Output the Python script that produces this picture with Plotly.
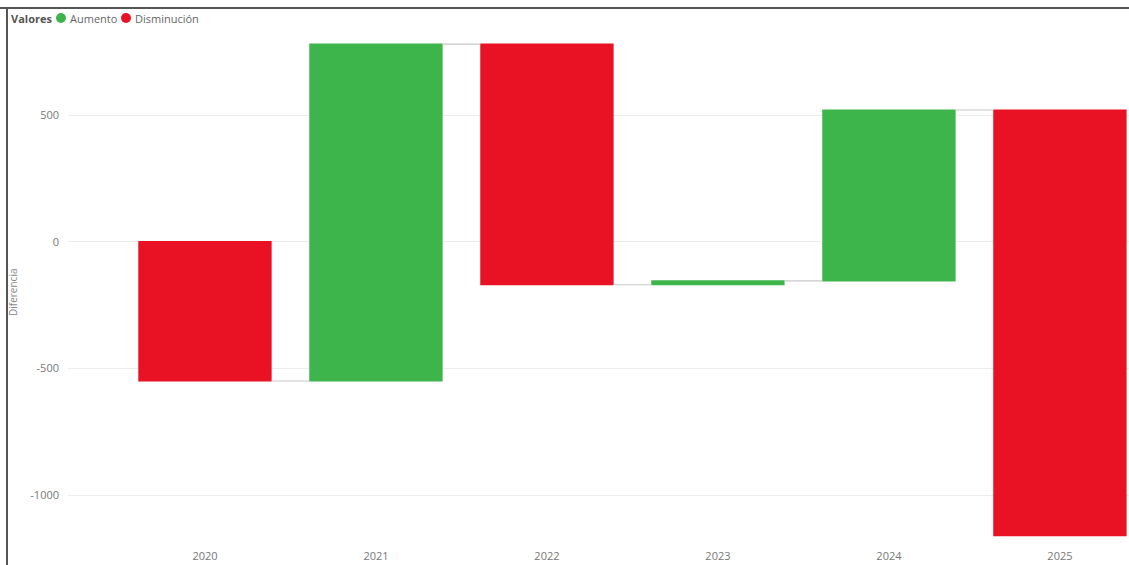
import plotly.graph_objects as go

years = ["2020", "2021", "2022", "2023", "2024", "2025"]
changes = [-550, 1330, -950, 15, 675, -1680]
y_ticks = [-1000, -500, 0, 500]
y_tick_labels = ["-1000", "-500", "0", "500"]
legend_title = "Valores"
legend_names = ["Aumento", "Disminución"]

GREEN = "#3DB54A"
RED = "#E81224"

W, H = 1129, 565
ML, MR, MT, MB = 68, 0, 30, 17
PW = W - ML - MR
PH = H - MT - MB

# pixel scale: 0 at y=241.7, 0.2533 px per unit
Y_TOP = (241.7 - MT) / 0.2533
Y_BOT = -((H - MB) - 241.7) / 0.2533


def px_x(px):
    return (px - ML) / PW


def px_y(py):
    return (H - MB - py) / PH


fig = go.Figure()
fig.add_trace(go.Waterfall(
    x=years,
    y=changes,
    measure=["relative"] * len(changes),
    increasing=dict(marker=dict(color=GREEN)),
    decreasing=dict(marker=dict(color=RED)),
    connector=dict(line=dict(color="#c8c8c8", width=1.2), mode="between"),
    showlegend=False,
    hoverinfo="x+y",
))

font_family = "Segoe UI, Open Sans, Noto Sans, sans-serif"

fig.update_layout(
    width=W, height=H,
    margin=dict(l=ML, r=MR, t=MT, b=MB),
    paper_bgcolor="white",
    plot_bgcolor="white",
    waterfallgap=0.22,
    showlegend=False,
    font=dict(family=font_family, color="#777777", size=11),
    xaxis=dict(
        type="category",
        range=[-0.801, 5.404],
        showgrid=False, showline=False, zeroline=False,
        ticks="",
        tickfont=dict(size=11, color="#777777"),
    ),
    yaxis=dict(
        range=[Y_BOT, Y_TOP],
        tickvals=y_ticks,
        ticktext=y_tick_labels,
        showgrid=True, gridcolor="#ececec", gridwidth=1,
        zeroline=False, showline=False,
        ticks="",
        ticklabelstandoff=8,
        tickfont=dict(size=11, color="#777777"),
    ),
)

# y-axis title
fig.add_annotation(
    text="Diferencia", xref="paper", yref="paper",
    x=px_x(13), y=px_y(293), textangle=-90,
    showarrow=False, xanchor="center", yanchor="middle",
    font=dict(size=10, color="#8a8a8a", family=font_family),
)

# custom legend
fig.add_annotation(
    text="<b>" + legend_title + "</b>", xref="paper", yref="paper",
    x=px_x(9), y=px_y(18), showarrow=False, xanchor="left", yanchor="middle",
    font=dict(size=11, color="#555555", family=font_family),
)
legend_items = [(legend_names[0], GREEN, 61, 68), (legend_names[1], RED, 126, 133)]
for name, col, cx, tx in legend_items:
    fig.add_shape(
        type="circle", xref="paper", yref="paper",
        x0=px_x(cx - 5), x1=px_x(cx + 5), y0=px_y(23), y1=px_y(13),
        fillcolor=col, line=dict(width=0),
    )
    fig.add_annotation(
        text=name, xref="paper", yref="paper",
        x=px_x(tx), y=px_y(18), showarrow=False, xanchor="left", yanchor="middle",
        font=dict(size=11, color="#666666", family=font_family),
    )

# frame lines (screenshot border)
fig.add_shape(type="line", xref="paper", yref="paper",
              x0=px_x(0), x1=px_x(W), y0=px_y(8), y1=px_y(8),
              line=dict(color="#555555", width=2))
fig.add_shape(type="line", xref="paper", yref="paper",
              x0=px_x(7), x1=px_x(7), y0=px_y(8), y1=px_y(H),
              line=dict(color="#555555", width=2))

fig.write_html(
    "out.html",
    config={"displayModeBar": False},
    post_script="document.body.style.margin='0';document.body.style.overflow='hidden';",
)
